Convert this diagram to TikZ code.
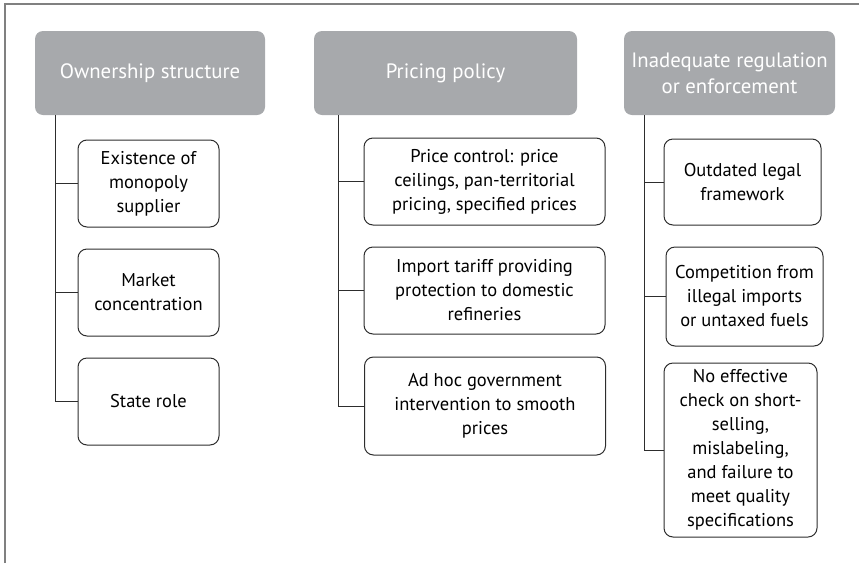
\documentclass[tikz,border=0pt]{standalone}
\usepackage{fontspec}
\setmainfont{PT Sans}
\usepackage{tikz}
\definecolor{hdgray}{RGB}{167,169,172}
\definecolor{lngray}{RGB}{45,45,45}
\definecolor{frgray}{RGB}{128,128,128}

\begin{document}
\begin{tikzpicture}[x=1pt,y=-1pt,
    head/.style={fill=hdgray,rounded corners=8pt,text=white,align=center,
        minimum height=84pt,inner sep=1pt,font=\fontsize{20.8}{26}\selectfont},
    item/.style={draw=lngray,line width=1pt,rounded corners=9pt,align=center,
        inner sep=1pt,text=black,font=\fontsize{18.5}{24}\selectfont},
    link/.style={draw=lngray,line width=1pt}]
            \useasboundingbox (0,0) rectangle (859,563);
            \draw [frgray,line width=1.5pt] (5,563) -- (5,4) -- (859,4);

            % headings
            \node[head,minimum width=230pt] (own) at (150,73) {Ownership structure};
            \node[head,minimum width=263pt] (pri) at (445.5,73) {Pricing policy};
            \node[head,minimum width=211pt] (reg) at (729.5,73) {Inadequate regulation\\or enforcement};

            % ownership
            \node[item,minimum width=141pt,minimum height=87pt] (mono) at (148.5,183.5) {Existence of\\monopoly\\supplier};
            \node[item,minimum width=141pt,minimum height=87pt] (conc) at (148.5,292.5) {Market\\concentration};
            \node[item,minimum width=141pt,minimum height=87pt] (state) at (148.5,401.5) {State role};

            % pricing
            \node[item,minimum width=241pt,minimum height=87pt] (ctrl) at (484.5,181.5) {Price control: price\\ceilings, pan-territorial\\pricing, specified prices};
            \node[item,minimum width=241pt,minimum height=87pt] (tariff) at (484.5,290.5) {Import tariff providing\\protection to domestic\\refineries};
            \node[item,minimum width=241pt,minimum height=98pt] (adhoc) at (485,406) {Ad hoc government\\intervention to smooth\\prices};

            % regulation
            \node[item,minimum width=157pt,minimum height=86pt] (legal) at (742.5,182) {Outdated legal\\framework};
            \node[item,minimum width=157pt,minimum height=99pt] (comp) at (744.5,296.5) {Competition from\\illegal imports\\or untaxed fuels};
            \node[item,minimum width=153pt,minimum height=174pt] (check) at (740.5,450) {No effective\\check on short-\\selling,\\mislabeling,\\and failure to\\meet quality\\specifications};

            % trunks
            \coordinate (t1) at (55,115);
            \coordinate (t2) at (338,115);
            \coordinate (t3) at (644,115);
            \foreach \b in {mono,conc,state} {
                \draw [link] (t1) |- (\b.west);
            }
            \foreach \b in {ctrl,tariff,adhoc} {
                \draw [link] (t2) |- (\b.west);
            }
            \foreach \b in {legal,comp,check} {
                \draw [link] (t3) |- (\b.west);
            }
        \end{tikzpicture}
\end{document}
